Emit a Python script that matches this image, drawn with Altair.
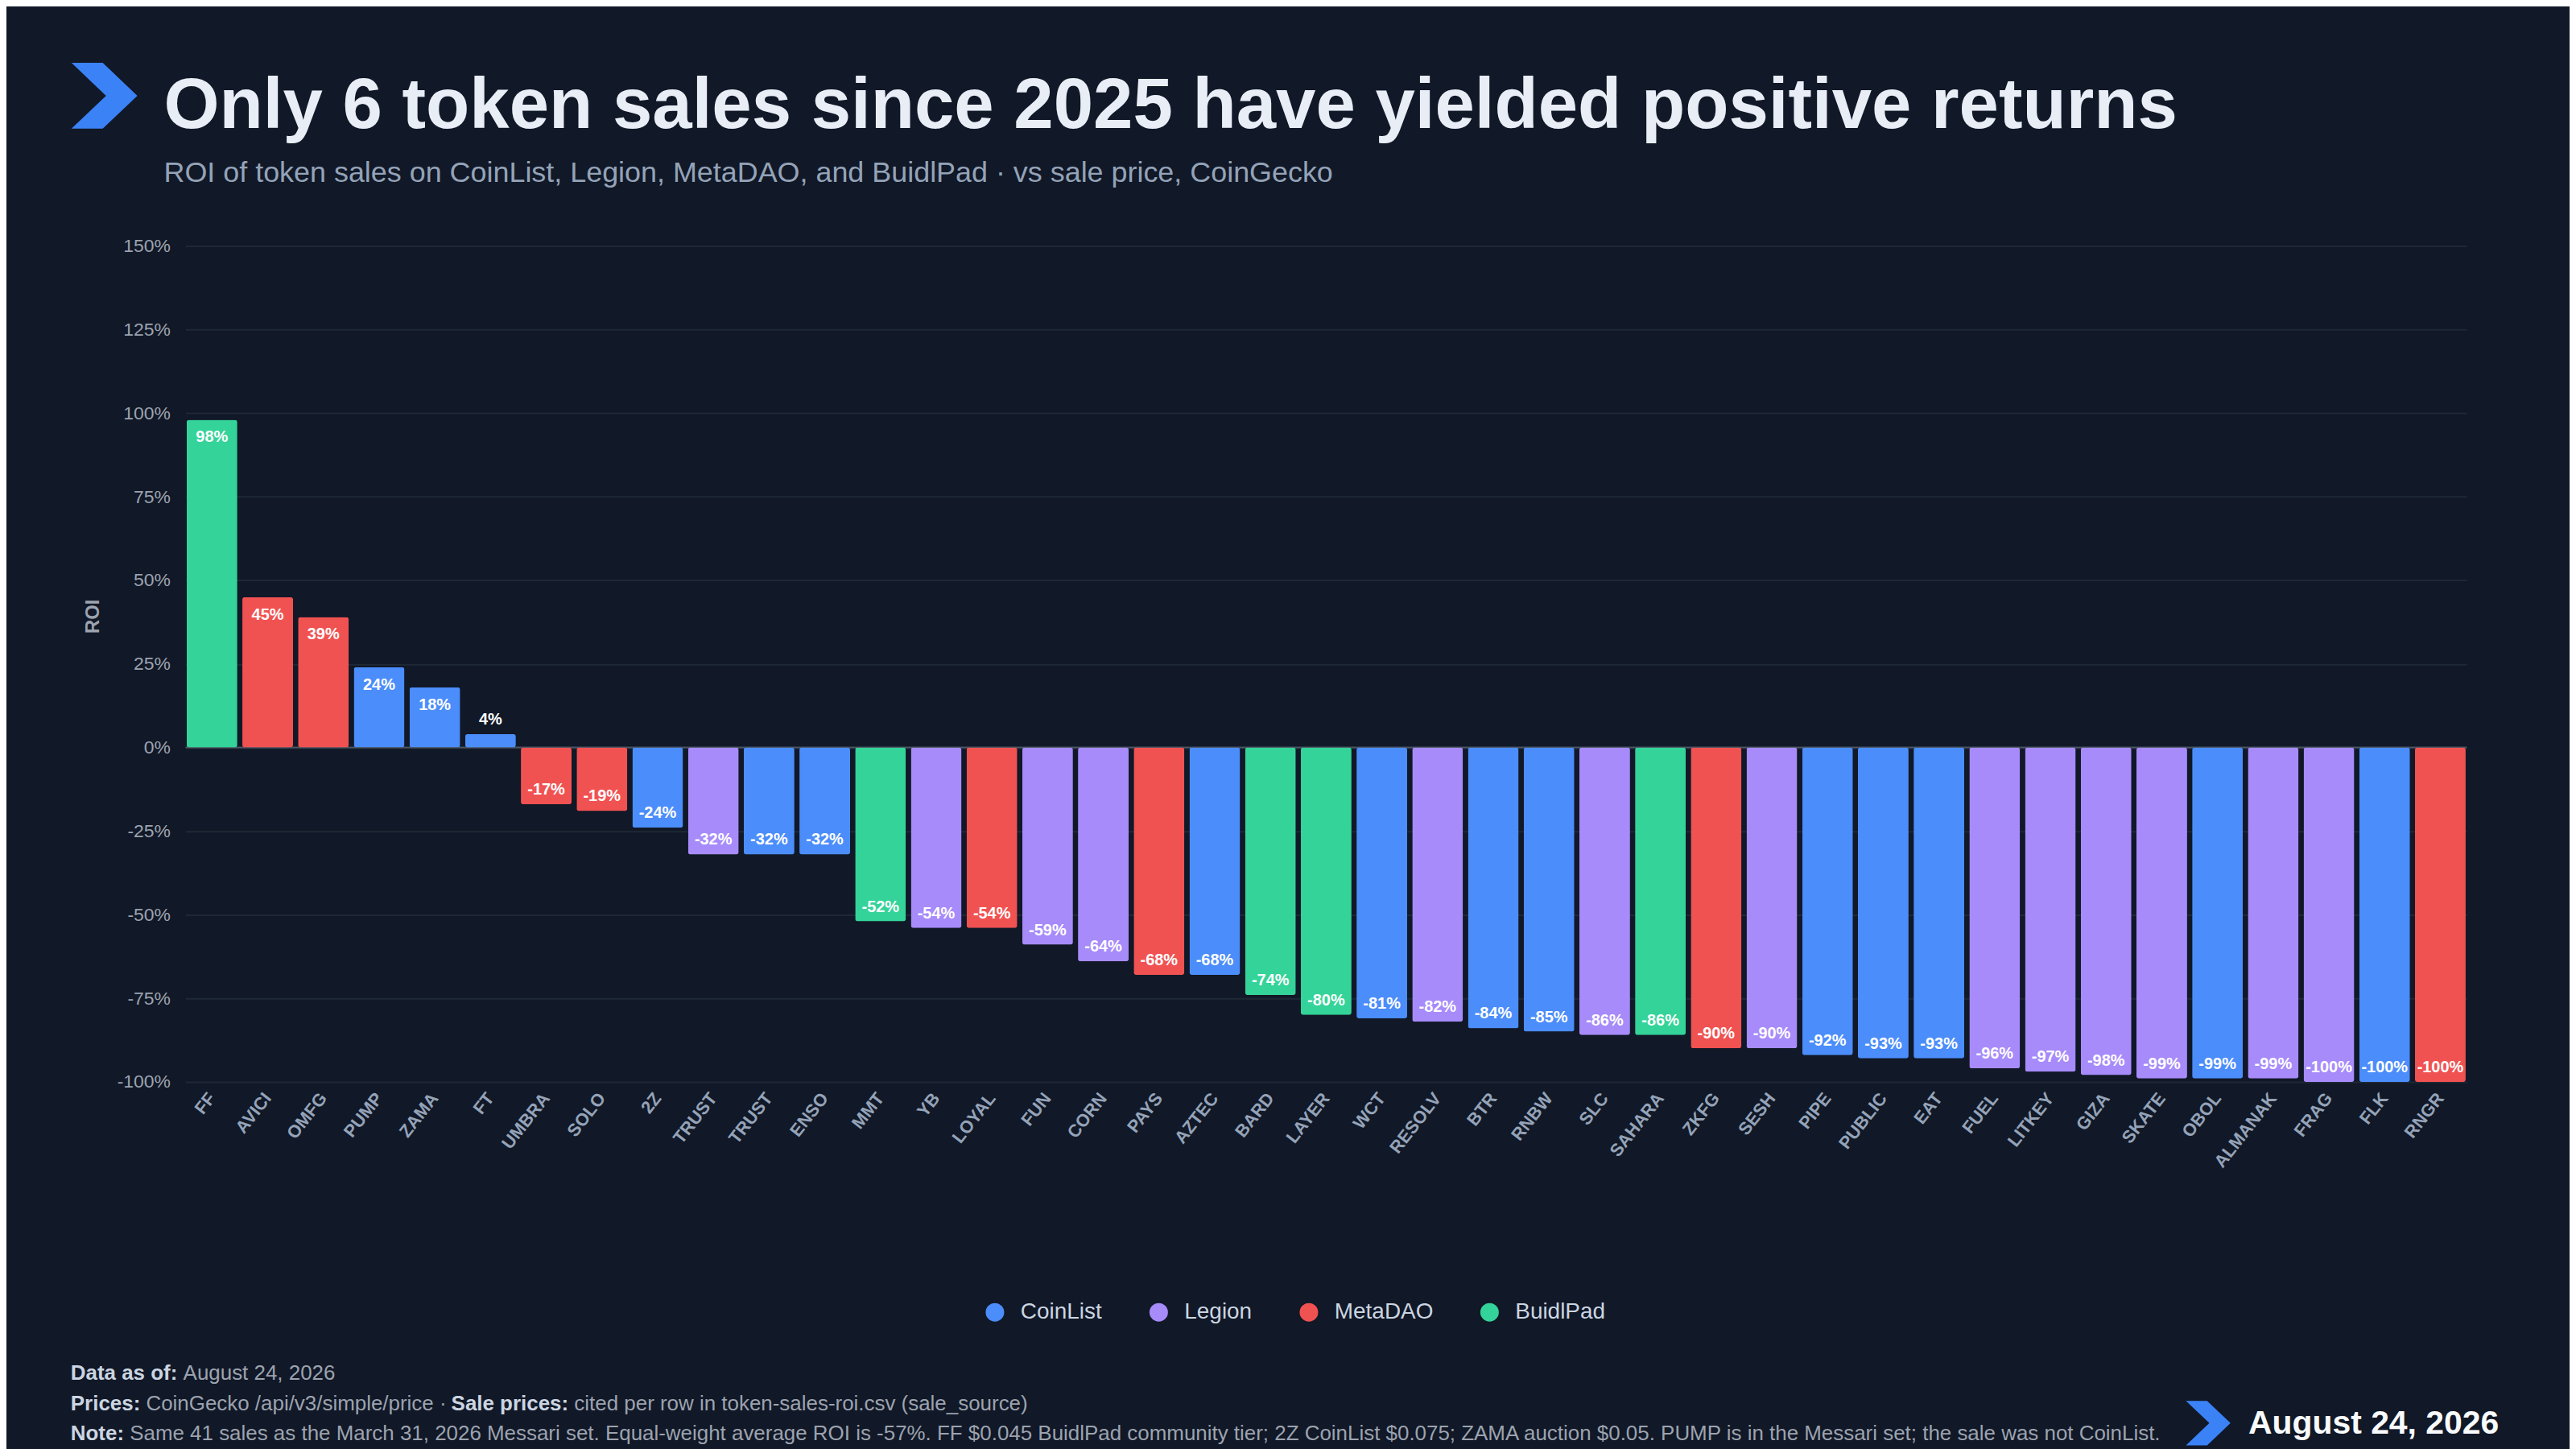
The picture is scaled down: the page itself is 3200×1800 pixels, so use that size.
import altair as alt
import pandas as pd

# ---------------- data ----------------
tokens = ["FF", "AVICI", "OMFG", "PUMP", "ZAMA", "FT", "UMBRA", "SOLO", "2Z", "TRUST",
          "TRUST", "ENSO", "MMT", "YB", "LOYAL", "FUN", "CORN", "PAYS", "AZTEC", "BARD",
          "LAYER", "WCT", "RESOLV", "BTR", "RNBW", "SLC", "SAHARA", "ZKFG", "SESH", "PIPE",
          "PUBLIC", "EAT", "FUEL", "LITKEY", "GIZA", "SKATE", "OBOL", "ALMANAK", "FRAG", "FLK",
          "RNGR"]
roi = [98, 45, 39, 24, 18, 4, -17, -19, -24, -32,
       -32, -32, -52, -54, -54, -59, -64, -68, -68, -74,
       -80, -81, -82, -84, -85, -86, -86, -90, -90, -92,
       -93, -93, -96, -97, -98, -99, -99, -99, -100, -100,
       -100]
platform = ["BuidlPad", "MetaDAO", "MetaDAO", "CoinList", "CoinList", "CoinList", "MetaDAO", "MetaDAO", "CoinList", "Legion",
            "CoinList", "CoinList", "BuidlPad", "Legion", "MetaDAO", "Legion", "Legion", "MetaDAO", "CoinList", "BuidlPad",
            "BuidlPad", "CoinList", "Legion", "CoinList", "CoinList", "Legion", "BuidlPad", "MetaDAO", "Legion", "CoinList",
            "CoinList", "CoinList", "Legion", "Legion", "Legion", "Legion", "CoinList", "Legion", "Legion", "CoinList",
            "MetaDAO"]
platforms = ["CoinList", "Legion", "MetaDAO", "BuidlPad"]
platform_colors = ["#4b8dfa", "#a78bfa", "#f05252", "#34d399"]
y_ticks = [-100, -75, -50, -25, 0, 25, 50, 75, 100, 125, 150]

title_text = "Only 6 token sales since 2025 have yielded positive returns"
subtitle_text = "ROI of token sales on CoinList, Legion, MetaDAO, and BuidlPad \u00b7 vs sale price, CoinGecko"
foot1 = ["Data as of:", "August 24, 2026"]
foot2 = ["Prices:", "CoinGecko /api/v3/simple/price \u00b7", "Sale prices:", "cited per row in token-sales-roi.csv (sale_source)"]
foot3 = ["Note:", "Same 41 sales as the March 31, 2026 Messari set. Equal-weight average ROI is -57%. FF $0.045 BuidlPad community tier; 2Z CoinList $0.075; ZAMA auction $0.05. PUMP is in the Messari set; the sale was not CoinList."]
date_badge = "August 24, 2026"

df = pd.DataFrame({
    "key": [f"{i:02d}|{t}" for i, t in enumerate(tokens)],
    "roi": roi,
    "platform": platform,
    "label": [f"{v}%" for v in roi],
})
one = pd.DataFrame({"k": [0]})
zero_df = pd.DataFrame({"roi": [0]})

# ---------------- style ----------------
FONT = "Liberation Sans"
BG = "#111827"
W, H = 2841, 1041
PL, PT = 223, 296
FS = 26  # footer font size
CHEVRON = "M-1,-1L-0.05,-1L1,0L-0.05,1L-1,1L0.05,0Z"

x_enc = alt.X(
    "key:N", sort="ascending", title=None,
    scale=alt.Scale(paddingInner=0.09, paddingOuter=0.02),
    axis=alt.Axis(labelExpr="split(datum.label, '|')[1]", labelAngle=-52,
                  labelFontSize=22, labelFontWeight="bold", labelColor="#94a3b8",
                  labelFont=FONT, labelPadding=16, ticks=False, domain=False, grid=False),
)
y_enc = alt.Y(
    "roi:Q", title="ROI",
    scale=alt.Scale(domain=[-100, 150], nice=False, zero=True),
    axis=alt.Axis(values=y_ticks, labelExpr="datum.value + '%'", labelFontSize=23,
                  labelColor="#9ca3af", labelFont=FONT, labelPadding=19, ticks=False,
                  domain=False, grid=True, gridColor="#1f2836", gridWidth=2,
                  titleFont=FONT, titleFontSize=24, titleFontWeight="bold",
                  titleColor="#9ca3af", titleX=-115, titleY=461, titleAngle=270,
                  titleAlign="center", titleBaseline="middle"),
)

zero_line = alt.Chart(zero_df).mark_rule(color="#4b5563", strokeWidth=2).encode(y=y_enc)

bars = alt.Chart(df).mark_bar(cornerRadius=3).encode(
    x=x_enc, y=y_enc,
    color=alt.Color("platform:N", scale=alt.Scale(domain=platforms, range=platform_colors),
                    legend=alt.Legend(title=None, orient="none", legendX=994, legendY=1314,
                                      direction="horizontal", symbolType="circle",
                                      symbolSize=529, symbolStrokeWidth=0,
                                      labelFontSize=28, labelColor="#cbd5e1", labelFont=FONT,
                                      labelOffset=18, columnPadding=56)),
)

lab_style = dict(font=FONT, fontSize=20, fontWeight="bold", color="#ffffff", baseline="middle", align="center")
lab_in_pos = alt.Chart(df).transform_filter("datum.roi >= 10").mark_text(dy=22, **lab_style).encode(
    x=x_enc, y=y_enc, text="label:N")
lab_out_pos = alt.Chart(df).transform_filter("datum.roi >= 0 && datum.roi < 10").mark_text(dy=-18, **lab_style).encode(
    x=x_enc, y=y_enc, text="label:N")
lab_neg = alt.Chart(df).transform_filter("datum.roi < 0").mark_text(dy=-18, **lab_style).encode(
    x=x_enc, y=y_enc, text="label:N")

def px(page_x):
    return page_x - (PL + 8)

def py(page_y):
    return page_y - (PT + 8)

def txt(s, xp, yp, size, color, weight="normal", baseline="middle"):
    return alt.Chart(one).mark_text(align="left", baseline=baseline, font=FONT, fontSize=size,
                                    fontWeight=weight, color=color).encode(
        x=alt.value(px(xp)), y=alt.value(py(yp)), text=alt.value(s))

chev_top = alt.Chart(one).mark_point(shape=CHEVRON, filled=True, size=6724, color="#3b82f6",
                                     opacity=1, strokeWidth=0).encode(
    x=alt.value(px(130)), y=alt.value(py(117)))
chev_bot = alt.Chart(one).mark_point(shape=CHEVRON, filled=True, size=3080, color="#3b82f6",
                                     opacity=1, strokeWidth=0).encode(
    x=alt.value(px(2750)), y=alt.value(py(1770)))

title_m = txt(title_text, 204, 157, 89, "#e8edf6", "bold", "alphabetic")
subtitle_m = txt(subtitle_text, 204, 224, 36, "#94a3b8", "normal", "alphabetic")

BOLD_C, REG_C = "#cbd5e1", "#9ca3af"
f1a = txt(foot1[0], 88, 1708, FS, BOLD_C, "bold")
f1b = txt(foot1[1], 88 + 5.39 * FS, 1708, FS, REG_C)
f2a = txt(foot2[0], 88, 1746, FS, BOLD_C, "bold")
f2b = txt(foot2[1], 88 + 3.61 * FS, 1746, FS, REG_C)
f2c = txt(foot2[2], 88 + (3.61 + 14.62) * FS, 1746, FS, BOLD_C, "bold")
f2d = txt(foot2[3], 88 + (3.61 + 14.62 + 5.89) * FS, 1746, FS, REG_C)
f3a = txt(foot3[0], 88, 1783, FS, BOLD_C, "bold")
f3b = txt(foot3[1], 88 + 2.83 * FS, 1783, FS, REG_C)
badge = txt(date_badge, 2800, 1783, 41, "#f8fafc", "bold", "alphabetic")

chart = alt.layer(
    zero_line, bars, lab_in_pos, lab_out_pos, lab_neg,
    chev_top, title_m, subtitle_m,
    f1a, f1b, f2a, f2b, f2c, f2d, f3a, f3b, chev_bot, badge,
).properties(
    width=W, height=H,
    autosize=alt.AutoSizeParams(type="none"),
    padding={"left": PL, "top": PT, "right": 3192 - PL - W, "bottom": 1792 - PT - H},
    background=BG,
).configure(font=FONT).configure_view(strokeWidth=0, stroke="transparent")

chart.save("out.html", embed_options={"renderer": "svg", "actions": False})
